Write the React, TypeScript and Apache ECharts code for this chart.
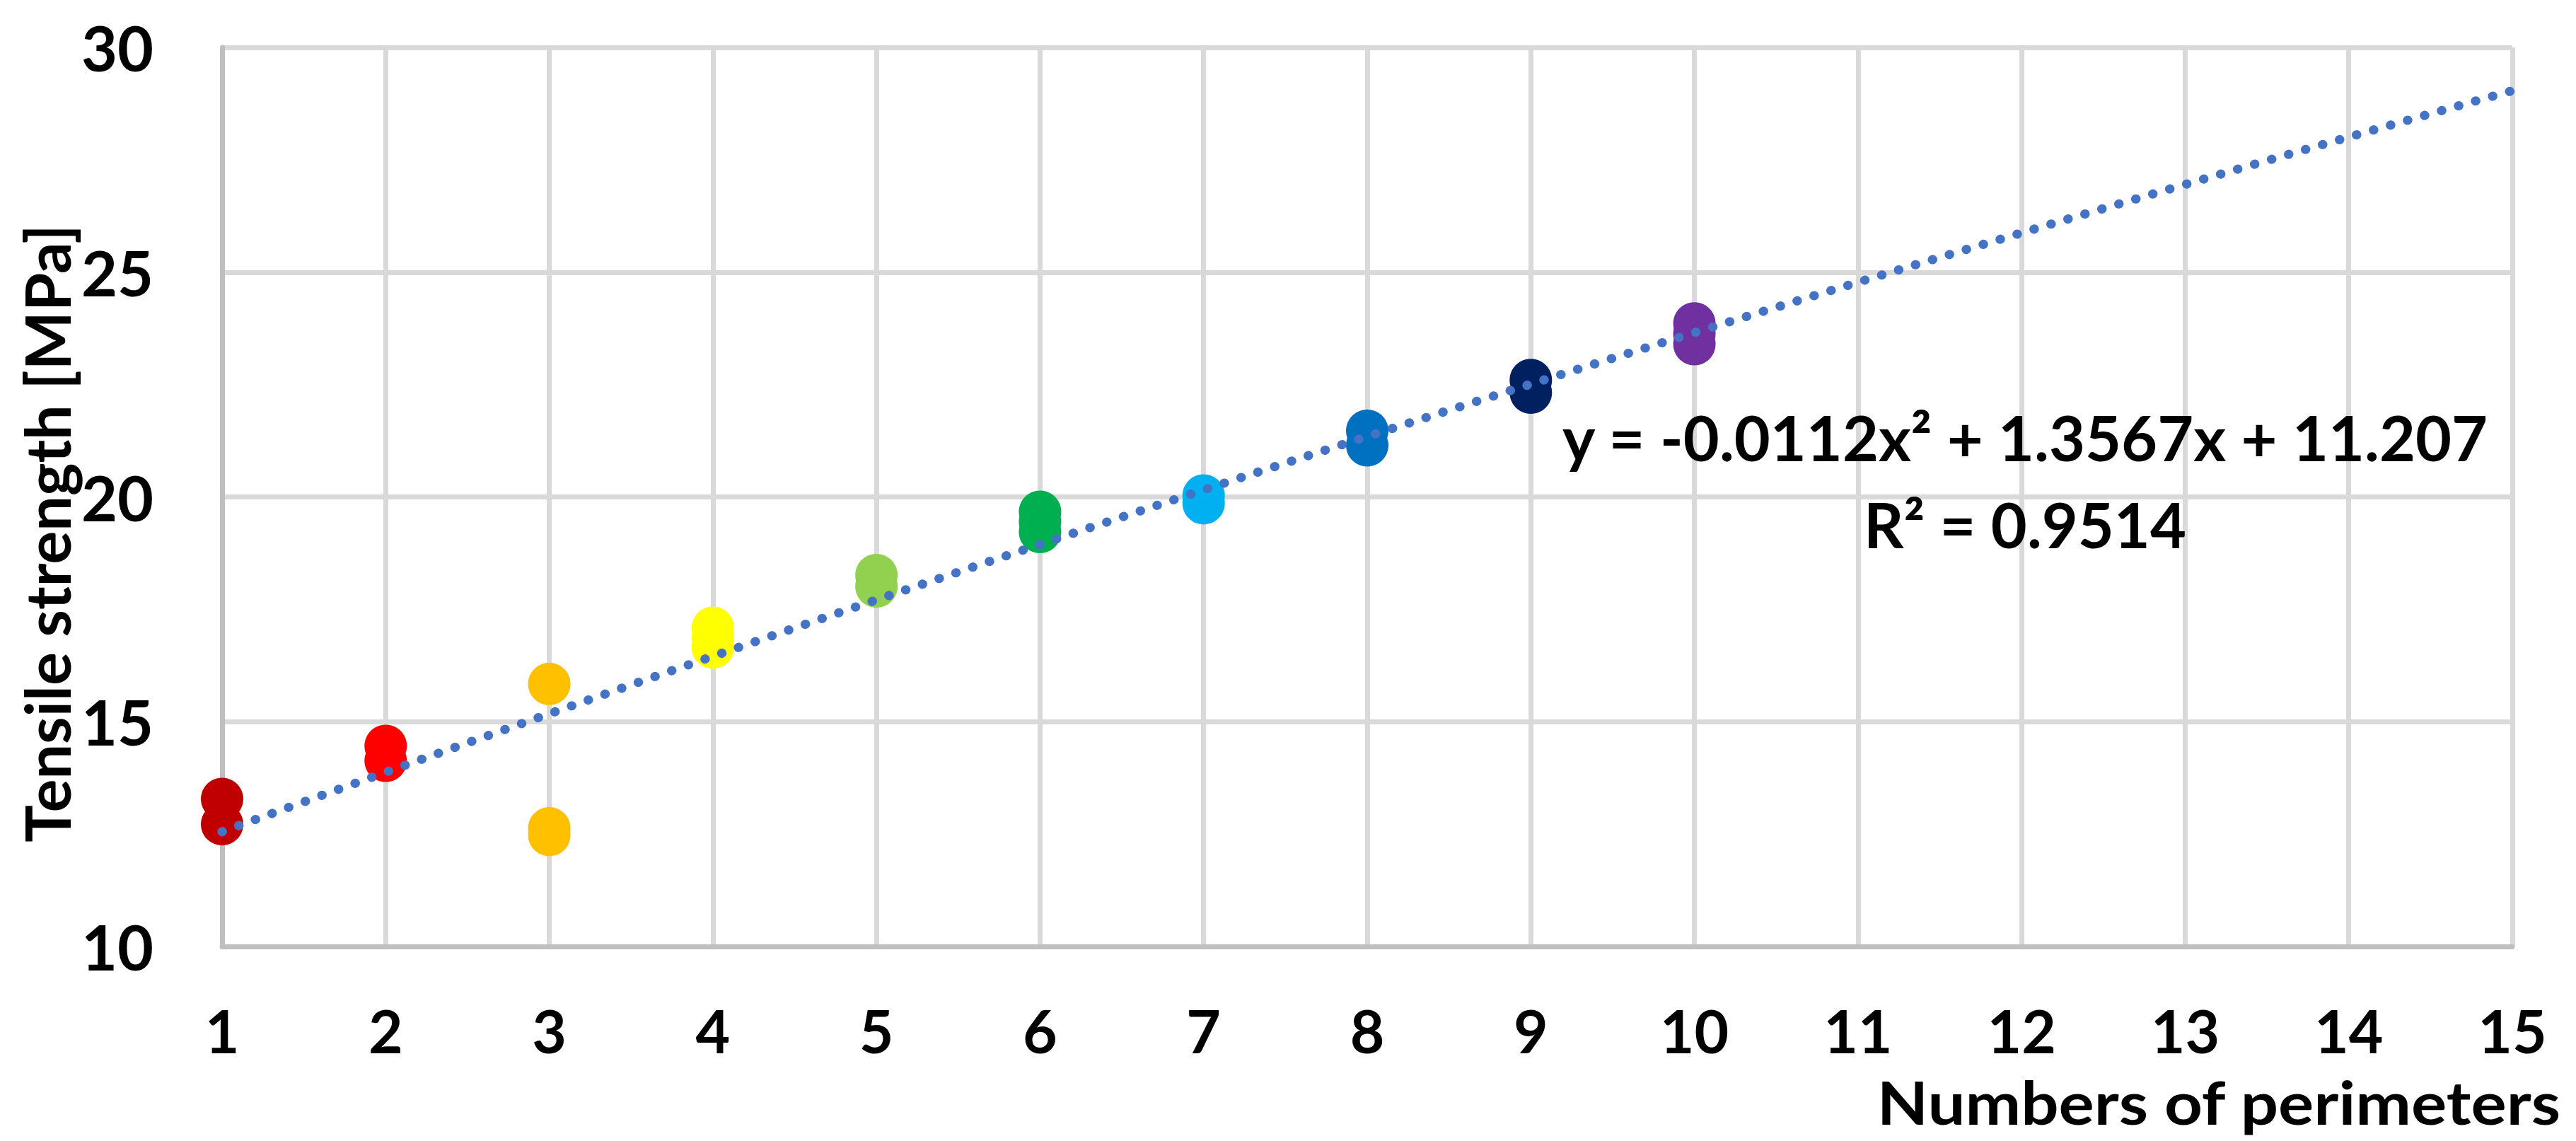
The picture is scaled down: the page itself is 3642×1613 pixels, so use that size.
import React, { useEffect, useRef } from "react";
import * as echarts from "echarts";

// ---- data ----
const perimeters = [1, 2, 3, 4, 5, 6, 7, 8, 9, 10];
const strengthByPerimeter = [
  [13.28, 12.72],
  [14.46, 14.13],
  [15.84, 12.63, 12.48],
  [17.09, 16.87, 16.65],
  [18.26, 18.01],
  [19.67, 19.45, 19.22],
  [20.03, 19.86],
  [21.47, 21.15],
  [22.6, 22.32],
  [23.86, 23.63, 23.4],
];
const markerColors = [
  "#C00000",
  "#FF0000",
  "#FFC000",
  "#FFFF00",
  "#92D050",
  "#00B050",
  "#00B0F0",
  "#0070C0",
  "#002060",
  "#7030A0",
];
// trend line: y = a*x^2 + b*x + c, as printed on the chart
const trendCoefficients = [-0.0112, 1.3567, 11.207];
const trendRange = [1, 15];
const xRange = [1, 15];
const yRange = [10, 30];
const yTickStep = 5;
const xTickStep = 1;
const xAxisTitle = "Numbers of perimeters";
const yAxisTitle = "Tensile strength [MPa]";
const equationLine = "y = -0.0112x² + 1.3567x + 11.207";
const r2Line = "R² = 0.9514";

const FONT = "Lato, 'Open Sans', sans-serif";

export default function App() {
  const ref = useRef<HTMLDivElement>(null);

  useEffect(() => {
    if (!ref.current) return;
    const chart = echarts.init(ref.current, undefined, { renderer: "svg" });

    const trendData: number[][] = [];
    const steps = 140;
    for (let i = 0; i <= steps; i++) {
      const x = trendRange[0] + ((trendRange[1] - trendRange[0]) * i) / steps;
      const [a, b, c] = trendCoefficients;
      trendData.push([x, a * x * x + b * x + c]);
    }

    const scatterSeries = perimeters.map((p, i) => ({
      type: "scatter",
      name: String(p),
      data: strengthByPerimeter[i].map((v) => [p, v]),
      symbol: "circle",
      symbolSize: 60,
      itemStyle: { color: markerColors[i], opacity: 1 },
      z: 2,
      silent: true,
    }));

    chart.setOption({
      animation: false,
      backgroundColor: "#ffffff",
      grid: { left: 314, right: 90, top: 67, bottom: 275, containLabel: false },
      xAxis: {
        type: "value",
        min: xRange[0],
        max: xRange[1],
        interval: xTickStep,
        axisLine: { show: true, lineStyle: { color: "#BFBFBF", width: 7 } },
        axisTick: { show: false },
        splitLine: { show: true, lineStyle: { color: "#D9D9D9", width: 7 } },
        axisLabel: {
          margin: 118,
          verticalAlign: "middle",
          fontFamily: FONT,
          fontWeight: "bold",
          fontSize: 84,
          lineHeight: 64,
          color: "#000000",
        },
      },
      yAxis: {
        type: "value",
        min: yRange[0],
        max: yRange[1],
        interval: yTickStep,
        axisLine: { show: true, lineStyle: { color: "#BFBFBF", width: 7 } },
        axisTick: { show: false },
        splitLine: { show: true, lineStyle: { color: "#D9D9D9", width: 7 } },
        axisLabel: {
          margin: 97,
          fontFamily: FONT,
          fontWeight: "bold",
          fontSize: 88,
          color: "#000000",
        },
      },
      series: [
        ...scatterSeries,
        {
          type: "line",
          name: "trend",
          data: trendData,
          showSymbol: false,
          symbol: "none",
          smooth: false,
          z: 5,
          silent: true,
          lineStyle: {
            color: "#4472C4",
            width: 13,
            type: [0.5, 24.5],
            cap: "round",
          },
        },
      ],
      graphic: [
        {
          type: "text",
          x: 66,
          y: 754,
          rotation: Math.PI / 2,
          style: {
            text: yAxisTitle,
            font: `bold 88px ${FONT}`,
            fill: "#000000",
            align: "center",
            verticalAlign: "middle",
          },
        },
        {
          type: "text",
          x: 3620,
          y: 1558,
          scaleX: 1.12,
          style: {
            text: xAxisTitle,
            font: `bold 84px ${FONT}`,
            fill: "#000000",
            align: "right",
            verticalAlign: "middle",
          },
        },
        {
          type: "text",
          x: 2863,
          y: 618,
          z: 10,
          style: {
            text: equationLine,
            font: `bold 88px ${FONT}`,
            fill: "#000000",
            align: "center",
            verticalAlign: "middle",
          },
        },
        {
          type: "text",
          x: 2863,
          y: 741,
          z: 10,
          style: {
            text: r2Line,
            font: `bold 88px ${FONT}`,
            fill: "#000000",
            align: "center",
            verticalAlign: "middle",
          },
        },
      ],
    });

    return () => chart.dispose();
  }, []);

  return (
    <div
      ref={ref}
      style={{ position: "fixed", left: 0, top: 0, width: 3642, height: 1613 }}
    />
  );
}
